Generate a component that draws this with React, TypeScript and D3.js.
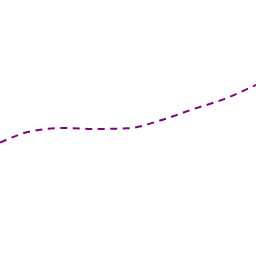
import * as d3 from "d3"
import React from "react"

const xs = [0, 1, 2, 3, 4, 5, 6, 7, 8]
const values = [44.3, 48.8, 50.0, 49.6, 49.9, 52.9, 57.2, 61.3, 66.8]

const W = 256
const H = 256

const App = () => {
    const scaleX = d3.scaleLinear().domain([0, 8]).range([0, W])
    const scaleY = d3.scaleLinear().domain([0, 100]).range([H, 0])
    const pts = xs.map((x, i) => [x, values[i]] as [number, number])
    const line = d3.line<[number, number]>()
        .x(d => scaleX(d[0]))
        .y(d => scaleY(d[1]))
        .curve(d3.curveMonotoneX)

    return (
        <svg width={W} height={H} style={{position: "absolute", left: 0, top: 0}}>
            <rect width={W} height={H} fill="#fff" />
            <path d={line(pts) || ""} fill="none" stroke="#800080"
                strokeWidth={2} strokeDasharray="7,5.5" />
        </svg>
    )
}

export default App
